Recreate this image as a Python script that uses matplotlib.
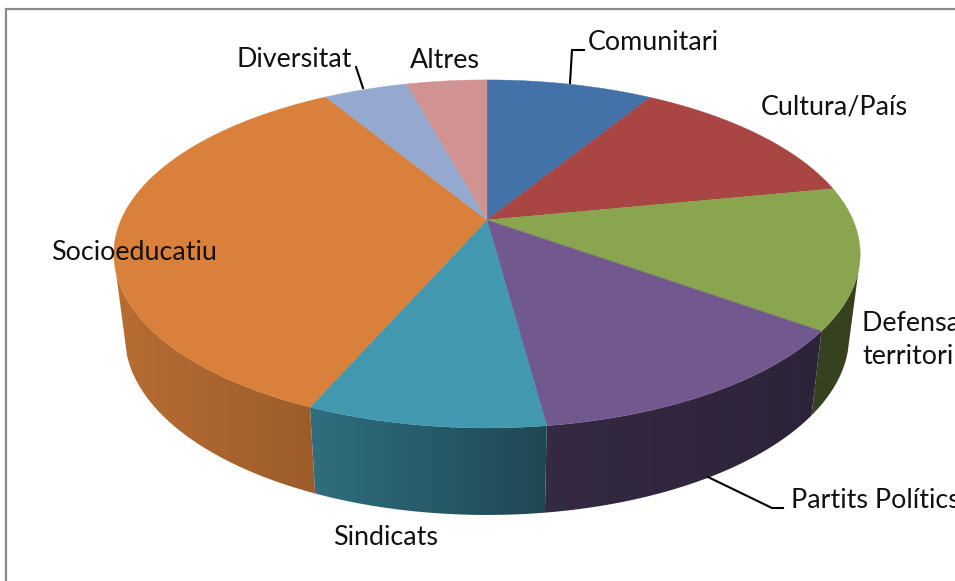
import numpy as np
import matplotlib
matplotlib.use("Agg")
import matplotlib.pyplot as plt
from matplotlib.patches import Polygon

# shares, clockwise from 12 o'clock
categories = ['Comunitari', 'Cultura/País', 'Defensa del\nterritori', 'Partits Polítics',
              'Sindicats', 'Socioeducatiu', 'Diversitat', 'Altres']
values = [8.7, 13.2, 13.1, 12.9, 8.6, 34.9, 4.4, 4.2]
colors = ['#4372A8', '#A94644', '#89A54E', '#71588F', '#4198AF', '#D9813B', '#93A9CF', '#D19392']

label_x = [588, 761, 862, 791, 333, 51, 236, 410]
label_y = [50, 114, 364, 508, 545, 260, 67, 68]

plt.rcParams['font.family'] = ['Lato', 'DejaVu Sans']


def project(theta):
    """Tilted pie: angle clockwise from top to screen pixels of the top face."""
    u, v = np.sin(theta), np.cos(theta)
    a = 0.195
    d = 1 + a * v
    return 487 + 366 * u / d, 220 - 167.4 * v / d


def lower_edge(x, y):
    """Matching point on the bottom rim of the pie."""
    return 487 + (x - 487) * 362 / 373, 336 + (y - 254) * 179 / 174


def shade(color, x):
    k = np.interp(x, [125, 316, 548, 820], [0.84, 0.72, 0.47, 0.40])
    rgb = np.array(matplotlib.colors.to_rgb(color))
    return np.outer(k, rgb)


fig = plt.figure(figsize=(9.55, 5.81), dpi=100)
ax = fig.add_axes([0, 0, 1, 1])

# chart frame, only top and left are in the crop
ax.plot([6, 6, 955], [581, 9, 9], color='#8a8a8a', lw=1.6, solid_joinstyle='miter')

edges = np.radians(np.cumsum([0] + values) * 3.6)

# side wall first, a horizontal gradient clipped to each slice's rim
for i, color in enumerate(colors):
    t = np.linspace(edges[i], edges[i + 1], 80)
    x, y = project(t)
    keep = y > 268
    x, y = x[keep], y[keep]
    if len(x) < 2:
        continue
    xb, yb = lower_edge(x, y)
    outline = np.column_stack([np.r_[x, xb[::-1]], np.r_[y, yb[::-1]]])
    x0, x1 = outline[:, 0].min() - 2, outline[:, 0].max() + 2
    y0, y1 = outline[:, 1].min() - 2, outline[:, 1].max() + 2
    grad = shade(color, np.linspace(x0, x1, 64))[np.newaxis, :, :]
    im = ax.imshow(grad, extent=[x0, x1, y1, y0], aspect='auto', interpolation='bilinear')
    clip = Polygon(outline, closed=True, transform=ax.transData)
    im.set_clip_path(clip)

# top face
for i, color in enumerate(colors):
    t = np.linspace(edges[i], edges[i + 1], 120)
    x, y = project(t)
    pts = np.column_stack([np.r_[487, x], np.r_[220, y]])
    ax.add_patch(Polygon(pts, closed=True, facecolor=color, edgecolor=color, lw=0.3))

# leader lines
ax.plot([570, 572, 584], [83, 50, 50], color='black', lw=1.5, solid_joinstyle='miter')
ax.plot([363, 356], [88, 67], color='black', lw=1.5)
ax.plot([708, 772, 783], [477, 508, 508], color='black', lw=1.5, solid_joinstyle='miter')

for name, lx, ly in zip(categories, label_x, label_y):
    ax.text(lx, ly, name, fontsize=19.4, color='#111111', ha='left', va='baseline', linespacing=1.38)

ax.set_xlim(0, 955)
ax.set_ylim(581, 0)
ax.axis('off')

plt.savefig('out.png', dpi=100)
plt.close()
